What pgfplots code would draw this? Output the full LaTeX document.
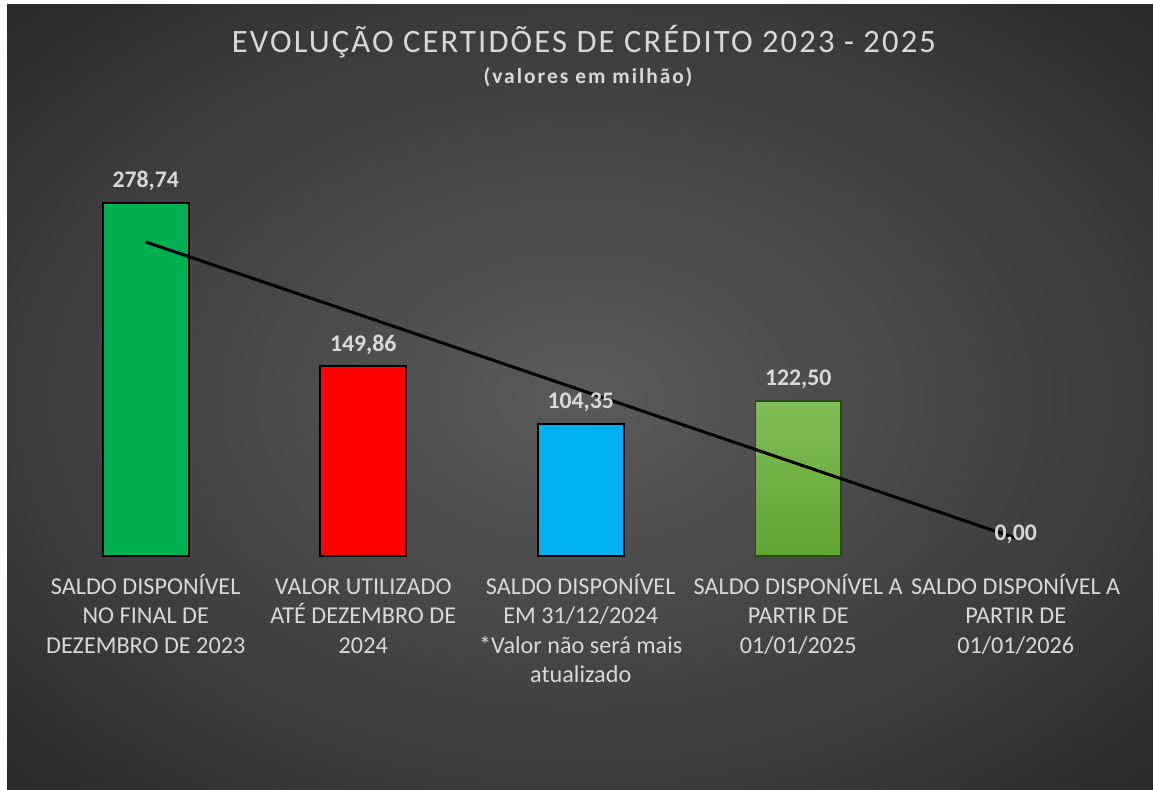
\documentclass[border=0pt]{standalone}
\usepackage{pgfplots}
\pgfplotsset{compat=1.18}
\usepackage{fontspec}
\setmainfont{Carlito}

\definecolor{lbl}{HTML}{D9D9D9}
\definecolor{bgin}{HTML}{5A5A5A}
\definecolor{bgmid}{HTML}{3B3B3B}
\definecolor{bgout}{HTML}{272727}
\definecolor{verde}{HTML}{00B050}
\definecolor{vermelho}{HTML}{FF0000}
\definecolor{azul}{HTML}{00B0F0}
\definecolor{verdetop}{HTML}{82BE58}
\definecolor{verdebot}{HTML}{5FA332}
\definecolor{verdeborda}{HTML}{2B4A17}

\pgfdeclareradialshading{chartbg}{\pgfpoint{0bp}{0bp}}{%
  color(0bp)=(bgin); color(25bp)=(bgmid); color(36bp)=(bgout); color(50bp)=(bgout)}

\begin{document}
\begin{tikzpicture}
\useasboundingbox (0pt,0pt) rectangle (576.5pt,395pt);
\fill[white] (0pt,0pt) rectangle (576.5pt,395pt);
\shade[shading=chartbg] (3.5pt,0pt) rectangle (576.5pt,392.5pt);

\node[anchor=base, text=lbl, font=\fontsize{16.3}{19}\selectfont\addfontfeatures{LetterSpace=6.5}]
  at (292pt,368.6pt) {EVOLUÇÃO CERTIDÕES DE CRÉDITO 2023 - 2025};
\node[anchor=base, text=lbl, font=\fontsize{10.7}{12}\selectfont\bfseries\addfontfeatures{LetterSpace=9.5}]
  at (294pt,353pt) {(valores em milhão)};

\begin{axis}[
    at={(18.5pt,117pt)}, anchor=south west,
    scale only axis,
    width=543.75pt, height=189.9pt,
    xmin=0.5, xmax=5.5,
    ymin=0, ymax=300,
    clip=false,
    axis line style={draw=none},
    major tick length=0pt,
    ytick=\empty,
    xtick={1,2,3,4,5},
    xticklabels={
      {SALDO DISPONÍVEL\\NO FINAL DE\\DEZEMBRO DE 2023},
      {VALOR UTILIZADO\\ATÉ DEZEMBRO DE\\2024},
      {SALDO DISPONÍVEL\\EM 31/12/2024\\*Valor não será mais\\atualizado},
      {SALDO DISPONÍVEL A\\PARTIR DE\\01/01/2025},
      {SALDO DISPONÍVEL A\\PARTIR DE\\01/01/2026}},
    typeset ticklabels with strut,
    xticklabel style={align=center, anchor=north, inner sep=0pt, yshift=-8.7pt,
      text=lbl, font=\fontsize{12.1}{14.75}\selectfont},
    bar width=42.75pt,
    /pgf/number format/assume math mode=true,
    nodes near coords={\pgfmathprintnumber[fixed, fixed zerofill, precision=2, use comma]{\pgfplotspointmeta}},
    every node near coord/.append style={anchor=base, yshift=7.6pt, inner sep=0pt,
      text=lbl, font=\fontsize{11.9}{14}\selectfont\bfseries},
]
\addplot[ybar, bar shift=0pt, draw=black, line width=1pt, fill=verde]
  coordinates {(1,278.74)};
\addplot[ybar, bar shift=0pt, draw=black, line width=1pt, fill=vermelho]
  coordinates {(2,149.86)};
\addplot[ybar, bar shift=0pt, draw=black, line width=1pt, fill=azul]
  coordinates {(3,104.35)};
\addplot[ybar, bar shift=0pt, draw=verdeborda, line width=0.6pt,
  top color=verdetop, bottom color=verdebot]
  coordinates {(4,122.50)};
\addplot[ybar, bar shift=0pt, draw=none, fill=none]
  coordinates {(5,0)};
% linha de tendencia linear
\addplot[sharp plot, no marks, black, line width=1.5pt, nodes near coords={}]
  coordinates {(1,248.06) (5,14.12)};
\end{axis}
\end{tikzpicture}
\end{document}
